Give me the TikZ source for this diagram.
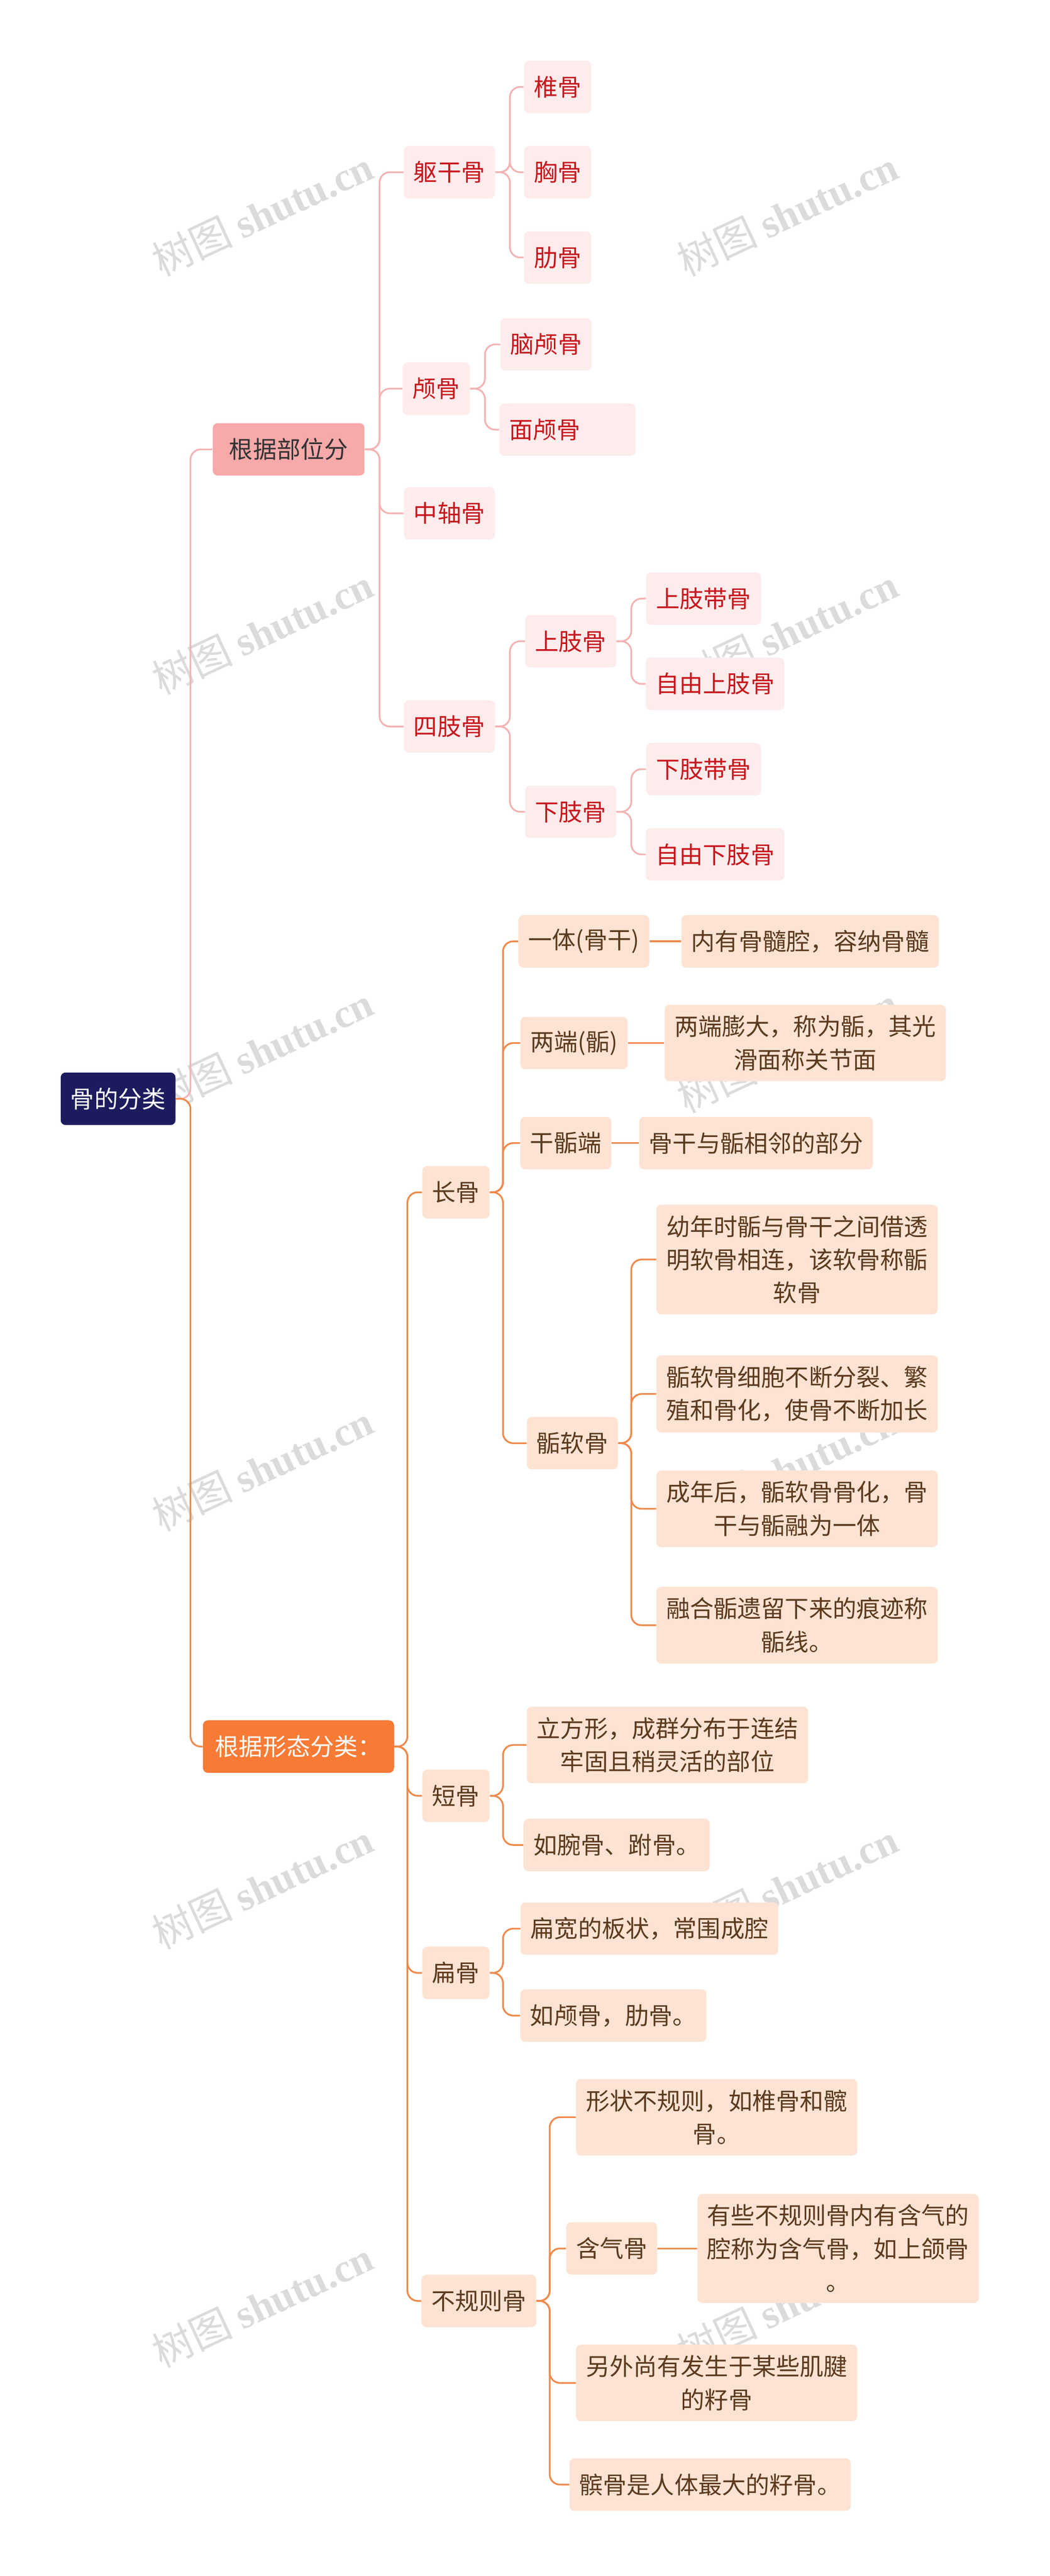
\documentclass[tikz,border=0pt]{standalone}
\usepackage{fontspec}
\setmainfont{Noto Sans CJK SC}
\newfontfamily\wmfont{Liberation Serif}
\definecolor{rootblue}{HTML}{1B1B5E}
\definecolor{pinkhead}{HTML}{F8A9A9}
\definecolor{orangehead}{HTML}{F77A35}
\definecolor{pinkfill}{HTML}{FDECEC}
\definecolor{pinktext}{HTML}{C8161D}
\definecolor{peachfill}{HTML}{FDE3D3}
\definecolor{peachtext}{HTML}{5C3A1E}
\definecolor{pinkline}{HTML}{F3B3B3}
\definecolor{orangeline}{HTML}{EF8A4C}
\tikzset{
  every node/.style={font=\fontsize{16.5}{23}\selectfont},
  base/.style={rounded corners=0.12cm, inner xsep=0.24cm, inner ysep=0.26cm, minimum height=1.28cm, align=center},
  rootbox/.style={base, fill=rootblue, text=white},
  pinkbox/.style={base, inner xsep=0.4cm, fill=pinkhead, text=black!80},
  orangebox/.style={base, inner xsep=0.3cm, fill=orangehead, text=white},
  leafp/.style={base, fill=pinkfill, text=pinktext},
  leafo/.style={base, fill=peachfill, text=peachtext},
  lp/.style={draw=pinkline, line width=1.2pt, rounded corners=0.25cm},
  lo/.style={draw=orangeline, line width=1.2pt, rounded corners=0.25cm},
  wm/.style={font=\fontsize{28}{28}\selectfont, text=gray!28, rotate=25}
}
\begin{document}
\begin{tikzpicture}[x=0.04cm,y=-0.04cm]
    \useasboundingbox (0,0) rectangle (640,1570.75);
    % watermark
    \foreach \y in {130,385,640,895,1150,1405}{
      \node[wm] at (160,\y) {树图 {\wmfont\bfseries shutu.cn}};
      \node[wm] at (480,\y) {树图 {\wmfont\bfseries shutu.cn}};
    }

    \node[rootbox] (root) at (72,670) {骨的分类};
    \node[pinkbox] (pos) at (176,274) {根据部位分};
    \node[orangebox] (shape) at (182,1065) {根据形态分类：};

    % by position
    \node[leafp] (trunk) at (274,105) {躯干骨};
    \node[leafp] (skull) at (266,237) {颅骨};
    \node[leafp] (axial) at (274,313) {中轴骨};
    \node[leafp] (limb) at (274,443) {四肢骨};
    \node[leafp] (vert) at (340,53) {椎骨};
    \node[leafp] (stern) at (340,105) {胸骨};
    \node[leafp] (rib) at (340,157) {肋骨};
    \node[leafp] (brain) at (333,210) {脑颅骨};
    \node[leafp] (face) at (346,262) {面颅骨\hspace{1.1cm}};
    \node[leafp] (upper) at (348,391) {上肢骨};
    \node[leafp] (lower) at (348,495) {下肢骨};
    \node[leafp] (ugird) at (429,365) {上肢带骨};
    \node[leafp] (ufree) at (436,417) {自由上肢骨};
    \node[leafp] (lgird) at (429,469) {下肢带骨};
    \node[leafp] (lfree) at (436,521) {自由下肢骨};

    % by shape
    \node[leafo] (long) at (278,727) {长骨};
    \node[leafo] (short) at (278,1095) {短骨};
    \node[leafo] (flat) at (278,1203) {扁骨};
    \node[leafo] (irreg) at (292,1403) {不规则骨};
    \node[leafo] (shaft) at (356,574) {一体(骨干)};
    \node[leafo] (ends) at (350,636) {两端(骺)};
    \node[leafo] (meta) at (345,697) {干骺端};
    \node[leafo] (epi) at (349,880) {骺软骨};
    \node[leafo] (shaftt) at (494,574) {内有骨髓腔，容纳骨髓};
    \node[leafo] (endst) at (491,636) {两端膨大，称为骺，其光\\滑面称关节面};
    \node[leafo] (metat) at (461,697) {骨干与骺相邻的部分};
    \node[leafo] (epi1) at (486,768) {幼年时骺与骨干之间借透\\明软骨相连，该软骨称骺\\软骨};
    \node[leafo] (epi2) at (486,850) {骺软骨细胞不断分裂、繁\\殖和骨化，使骨不断加长};
    \node[leafo] (epi3) at (486,920) {成年后，骺软骨骨化，骨\\干与骺融为一体};
    \node[leafo] (epi4) at (486,991) {融合骺遗留下来的痕迹称\\骺线。};
    \node[leafo] (short1) at (407,1064) {立方形，成群分布于连结\\牢固且稍灵活的部位};
    \node[leafo] (short2) at (376,1125) {如腕骨、跗骨。};
    \node[leafo] (flat1) at (396,1176) {扁宽的板状，常围成腔};
    \node[leafo] (flat2) at (374,1229) {如颅骨，肋骨。};
    \node[leafo] (irr1) at (437,1291) {形状不规则，如椎骨和髋\\骨。};
    \node[leafo] (air) at (373,1371) {含气骨};
    \node[leafo] (irr3) at (437,1453) {另外尚有发生于某些肌腱\\的籽骨};
    \node[leafo] (irr4) at (433,1515) {髌骨是人体最大的籽骨。};
    \node[leafo] (airt) at (511,1371) {有些不规则骨内有含气的\\腔称为含气骨，如上颌骨\\。};

    % connectors
    \draw[lp] (root.east) -- ++(9,0) |- (pos.west);
    \draw[lo] (root.east) -- ++(9,0) |- (shape.west);
    \foreach \c in {trunk,skull,axial,limb} \draw[lp] (pos.east) -- ++(9,0) |- (\c.west);
    \foreach \c in {vert,stern,rib} \draw[lp] (trunk.east) -- ++(9,0) |- (\c.west);
    \foreach \c in {brain,face} \draw[lp] (skull.east) -- ++(9,0) |- (\c.west);
    \foreach \c in {upper,lower} \draw[lp] (limb.east) -- ++(9,0) |- (\c.west);
    \foreach \c in {ugird,ufree} \draw[lp] (upper.east) -- ++(9,0) |- (\c.west);
    \foreach \c in {lgird,lfree} \draw[lp] (lower.east) -- ++(9,0) |- (\c.west);

    \foreach \c in {long,short,flat,irreg} \draw[lo] (shape.east) -- ++(8,0) |- (\c.west);
    \foreach \c in {shaft,ends,meta,epi} \draw[lo] (long.east) -- ++(8,0) |- (\c.west);
    \draw[lo] (shaft) -- (shaftt);
    \draw[lo] (ends) -- (endst);
    \draw[lo] (meta) -- (metat);
    \foreach \c in {epi1,epi2,epi3,epi4} \draw[lo] (epi.east) -- ++(8,0) |- (\c.west);
    \foreach \c in {short1,short2} \draw[lo] (short.east) -- ++(8,0) |- (\c.west);
    \foreach \c in {flat1,flat2} \draw[lo] (flat.east) -- ++(8,0) |- (\c.west);
    \foreach \c in {irr1,air,irr3,irr4} \draw[lo] (irreg.east) -- ++(8,0) |- (\c.west);
    \draw[lo] (air) -- (airt);
\end{tikzpicture}
\end{document}
